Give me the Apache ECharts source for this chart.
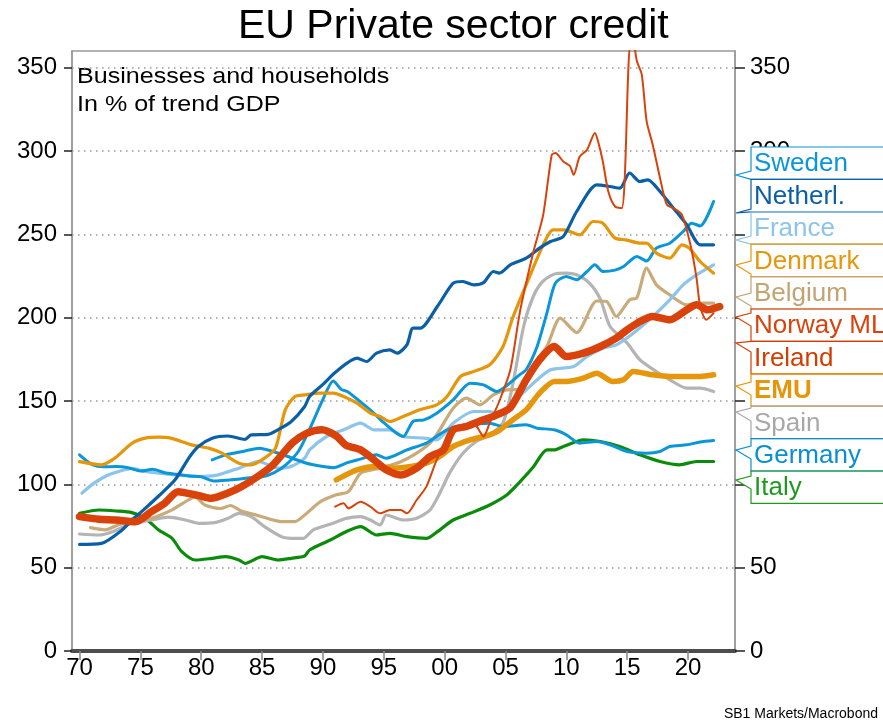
<!DOCTYPE html>
<html><head><meta charset="utf-8">
<script src="https://cdn.jsdelivr.net/npm/echarts@6/dist/echarts.min.js"></script>
<style>html,body{margin:0;padding:0;background:#fff}#c{width:883px;height:723px}</style>
</head><body><div id="c"></div>
<script>
// ---- data: [year, % of trend GDP] ----
const sweden = [[1970,117.7],[1971,112],[1972,110.5],[1973,110.7],[1974,110],[1975,108],[1976,109],[1977,107],[1978,106],[1979,105],[1980,104.5],[1981,102],[1982,102.5],[1983,103],[1984,104],[1985,104.5],[1986,107],[1987,112],[1988,120],[1988.9,133],[1990,151],[1990.85,162],[1991.5,157],[1992,155.7],[1993,150],[1994,144],[1995,137],[1996,131],[1996.6,128.7],[1997.4,137.7],[1998.3,138.7],[1999.35,142.7],[2000.7,150.7],[2002.1,160.7],[2003.2,159.7],[2004.3,155.7],[2005,158.7],[2006.2,166],[2006.7,168.7],[2007.6,182.7],[2008.4,202.7],[2009.1,220.7],[2010,224.7],[2010.85,222.7],[2011.7,227.7],[2012.35,231.7],[2013,227.7],[2014,228.5],[2014.7,230.7],[2015.8,236.7],[2016.6,234],[2017.4,241.7],[2018.5,244.7],[2019.6,251.7],[2020.3,256.7],[2021,255],[2022.1,269.7]];
const netherlands = [[1970,64],[1971.8,64.6],[1973.5,72.6],[1974.3,78.6],[1975.1,83.6],[1976.5,93],[1977.85,102.7],[1979,116],[1979.76,122.7],[1980.9,127.7],[1982.2,129],[1983.6,127],[1984.1,129.7],[1985.5,130],[1986.3,132.7],[1987.4,137.7],[1988.5,146.7],[1988.9,152.7],[1990,160],[1991.1,167.7],[1992.8,175.7],[1993.6,173.7],[1994.4,178.7],[1995.5,180.7],[1996.1,178.7],[1996.9,183.7],[1997.4,193.7],[1998,193.7],[1999.4,206.7],[2000.7,220.7],[2001.5,221.7],[2002.4,219.7],[2003.2,221],[2004,227.7],[2004.5,226.7],[2005.4,231.7],[2006.7,235.7],[2007.8,241.7],[2008.7,245.7],[2009.75,248.7],[2010.85,263.7],[2012.5,279.7],[2013.6,278.7],[2014.4,277.7],[2015.2,286.8],[2016.05,281.7],[2016.7,282.7],[2017.7,275.7],[2018.8,265.7],[2019.9,255.7],[2021,243.7],[2022.1,243.7]];
const france = [[1970.2,94.7],[1971,99.7],[1972.1,104.7],[1973.2,107.7],[1974.3,109.6],[1975.4,107.7],[1976.5,106.7],[1977.85,105.7],[1979.8,104.7],[1981.4,105.7],[1983.1,109.7],[1984.7,113.7],[1986.3,109.7],[1987.4,110.7],[1988.5,115.7],[1988.9,120.7],[1990.3,128.7],[1991.7,132.7],[1993.1,136.7],[1994.2,132.7],[1995.5,132.7],[1996.6,128.7],[1998.3,127.7],[1999.35,126.7],[2000.7,136.7],[2002.4,143.7],[2003.7,143.7],[2004.8,142],[2005.6,148.7],[2007.3,160.7],[2008.7,168.7],[2010.6,170.7],[2011.7,176.7],[2013,181.7],[2014.1,183.7],[2015.5,190.7],[2017.1,200.7],[2018.5,210.7],[2019.6,219.7],[2020.7,225.7],[2022.1,231.7]];
const denmark = [[1970,113.6],[1971.8,111.7],[1972.9,115.7],[1974.3,124.6],[1975.4,127.7],[1976.5,128.3],[1977.5,127.7],[1979.2,123.7],[1980.6,121.7],[1981.7,118.7],[1983.1,112.7],[1984.1,111.7],[1985.2,115.7],[1986.1,121.7],[1986.9,144.7],[1987.7,152.7],[1988.5,153.7],[1989.8,154.7],[1990.85,154.7],[1991.7,152.7],[1992.8,148.7],[1993.9,142.7],[1994.7,140.7],[1995.5,137.7],[1996.6,140.7],[1997.95,144.7],[1999.35,147.7],[2000.2,152.7],[2001.3,164.7],[2002.4,167.7],[2003.7,171.7],[2004.8,182.7],[2005.6,200],[2006.7,219.7],[2008.1,243.7],[2008.9,252.7],[2009.8,252.7],[2011.1,249.7],[2012.2,257.7],[2013,256.7],[2014,247.7],[2014.9,246.7],[2016.05,244.7],[2016.6,244.7],[2017.4,238.7],[2018.5,235.7],[2019.5,243.7],[2020.1,241.7],[2021,233.7],[2022.1,226.7]];
const belgium = [[1970.9,74],[1972.1,72.7],[1973.2,75.7],[1974.3,77.7],[1975.9,79.7],[1977.6,84.7],[1978.95,90.7],[1979.5,92.3],[1980.3,87.6],[1981.6,85.5],[1982.4,87.3],[1983.3,84],[1984.8,81],[1986.6,77.6],[1987.7,77.6],[1988.5,81.6],[1989.8,89.6],[1991.1,93.7],[1992.1,95.6],[1993.1,106.7],[1994.7,109.7],[1996.4,113.6],[1997.7,118.7],[1998.8,124.7],[1999.6,132.7],[2000.7,145.7],[2001.8,151.7],[2002.9,147.7],[2004,153.7],[2005.1,156.7],[2006.2,157],[2007.3,172],[2008.4,182.7],[2009.5,199.7],[2010.85,191],[2012.5,210],[2013.3,209.7],[2014.1,200.7],[2015.2,210.7],[2015.8,212],[2016.6,229.7],[2017.4,219.7],[2018.5,213.7],[2019.9,207.7],[2021,208.7],[2022.1,208.7]];
const norwayML = [[1970,80.6],[1971.6,79],[1973,78.6],[1974.6,77.6],[1975.9,83.6],[1977,88.7],[1978.1,95.6],[1979.8,93.2],[1980.8,91.6],[1982.2,94.8],[1983.3,98.5],[1984.7,105],[1985.9,111.7],[1987.5,125],[1988.7,130.7],[1989.9,132.7],[1991.1,129],[1991.9,123.5],[1993.1,120.7],[1994.2,114.7],[1995.2,108.7],[1996.4,105.6],[1997.7,109.7],[1998.8,116.6],[1999.9,120.7],[2000.7,132.7],[2001.8,134.7],[2003.2,138.7],[2004.3,141.7],[2005.4,146],[2006.7,162.7],[2007.8,174.7],[2009,182.7],[2010,176.7],[2011.4,178.7],[2012.8,182.7],[2014.1,187.7],[2015,192.7],[2016.05,197.7],[2017.1,200.7],[2018.5,198.7],[2019.9,204.7],[2020.7,207.7],[2021.6,204.7],[2022.6,206.7]];
const ireland = [[1991,86.6],[1991.7,88.6],[1992.1,85.6],[1993.1,89.6],[1993.9,86.6],[1994.7,82.6],[1995.5,84.6],[1996.4,84.6],[1996.9,82.6],[1997.7,90.6],[1998.5,98.6],[1999.35,114.7],[2000.2,126.7],[2001,132.7],[2002.1,136.7],[2002.6,135],[2003.2,128.7],[2003.7,136.7],[2004.5,150],[2005.4,168.7],[2006.2,204],[2007.3,239.7],[2008.1,261.7],[2008.8,297.7],[2009.1,298.8],[2009.75,293.7],[2010.3,291],[2010.6,285.7],[2011.1,296.7],[2011.7,300.7],[2012.35,310.8],[2012.6,306],[2013,293.7],[2013.45,275.7],[2014,266.7],[2014.55,265.7],[2014.8,283.7],[2015.1,350],[2015.3,366],[2015.6,362],[2015.8,353.8],[2016.2,345.8],[2016.6,317.8],[2017.1,303.8],[2017.7,283.8],[2018.25,267.8],[2018.8,265.7],[2019.5,261.7],[2020.2,243.7],[2020.7,223.7],[2021,206.7],[2021.5,198.7],[2022.1,202.7]];
const emu = [[1991.1,102.7],[1992.8,108.7],[1994.4,110.7],[1995.8,109.7],[1997.2,110.7],[1998.5,112.7],[1999.6,116.7],[2000.7,122.7],[2002.1,126.7],[2003.7,129.7],[2004.55,132.7],[2005.6,138.7],[2006.7,144.7],[2007.8,154.7],[2009,161.7],[2010,161.7],[2011.4,163.7],[2012.5,166.7],[2013.8,161.7],[2014.7,162.7],[2015.5,167.7],[2017.1,165.7],[2018.5,164.7],[2019.9,164.7],[2021,164.7],[2022.1,165.7]];
const spain = [[1970,70.2],[1971.6,69.6],[1972.7,71.6],[1974.3,76.6],[1975.9,78.6],[1977.3,80.3],[1978.7,78.6],[1979.8,76.6],[1981.1,77],[1982.2,79.6],[1983.1,82.6],[1984.1,80.6],[1985.2,74.6],[1986.6,68.6],[1987.7,67.6],[1988.4,67.6],[1989.2,72.7],[1990.85,76.7],[1991.9,79.6],[1993.1,80.6],[1993.9,78.6],[1994.7,75.6],[1995.2,81.6],[1996.6,78.6],[1997.7,79.6],[1998.8,84.6],[1999.6,94.7],[2000.4,106.7],[2001.5,118.7],[2002.6,125.7],[2003.7,129.7],[2004.8,137],[2005.6,160],[2006.5,195],[2007.3,213],[2008.1,222],[2009.2,226.5],[2010,226.7],[2010.85,225.7],[2011.9,220.7],[2012.8,211],[2013.6,194.7],[2015,184.7],[2016.05,174.7],[2017.4,167.7],[2018.5,162.7],[2019.9,157.7],[2021,157.7],[2022.1,155.7]];
const germany = [[1980.9,114.7],[1982,117.7],[1983.6,120],[1984.8,121.7],[1985.9,119.7],[1987,117],[1988.1,114],[1989,112],[1990.85,110],[1992,113],[1993,115],[1994.4,117.7],[1995.2,115.7],[1996.9,120.7],[1998.5,124.7],[2000.2,132.7],[2001.8,135.7],[2003.7,136.7],[2004.8,134.7],[2006.7,135.7],[2007.6,133.7],[2009,132.7],[2010,129.7],[2011.1,124.7],[2012.5,125.7],[2013.6,123.7],[2015,119.7],[2016.6,118.7],[2017.7,119.7],[2018.5,122.7],[2019.9,123.7],[2021,125.4],[2022.1,126.3]];
const italy = [[1970,82.6],[1971.6,84.6],[1973,84],[1974.3,83],[1975.4,79.6],[1976.5,72.6],[1977.6,67.6],[1978.4,59.6],[1979.5,54.6],[1980.9,55.6],[1982,56.6],[1983.1,54.6],[1983.6,52.6],[1985,56.6],[1986.3,54.6],[1987.4,55.6],[1988.5,57],[1988.9,60.6],[1990.6,66.6],[1991.9,71.6],[1993.1,74.6],[1994.4,69.6],[1995.5,70.6],[1996.9,68.6],[1998.5,67.6],[1999.4,71.6],[2000.7,78.6],[2002.1,82.6],[2003.7,87.6],[2005.1,93.6],[2006.2,101.6],[2007.3,110.6],[2008.4,120.7],[2009,120.7],[2009.75,122.7],[2011.4,126.7],[2012.8,125.7],[2014.4,122.7],[2016.05,117.7],[2017.7,113.7],[2019.3,111.7],[2020.7,113.7],[2022.1,113.7]];

const legendNames = ['Sweden','Netherl.','France','Denmark','Belgium','Norway ML','Ireland','EMU','Spain','Germany','Italy'];
const xTickYears = [1970,1975,1980,1985,1990,1995,2000,2005,2010,2015,2020];
const yTickValues = [0,50,100,150,200,250,300,350];

// ---- styling ----
const FONT = 'Liberation Sans, Arial, sans-serif';
const styles = {
  'Sweden':    {data: sweden,      color:'#0a96d8', width:3,   lc:'#0a96d8'},
  'Netherl.':  {data: netherlands, color:'#0a5fa6', width:3.2, lc:'#0a5fa6'},
  'France':    {data: france,      color:'#8cc4ec', width:3.2, lc:'#8cc4ec'},
  'Denmark':   {data: denmark,     color:'#e6960a', width:3.2, lc:'#e6960a'},
  'Belgium':   {data: belgium,     color:'#c9ab7a', width:3.2, lc:'#c2a472'},
  'Norway ML': {data: norwayML,    color:'#d9420b', width:7.5, lc:'#d9420b'},
  'Ireland':   {data: ireland,     color:'#d9420b', width:2,   lc:'#d43c00'},
  'EMU':       {data: emu,         color:'#e6960a', width:5.5, lc:'#e6960a', bold:true},
  'Spain':     {data: spain,       color:'#b4b4b4', width:3.2, lc:'#a8a8a8'},
  'Germany':   {data: germany,     color:'#0a96d8', width:3,   lc:'#0a8fd4'},
  'Italy':     {data: italy,       color:'#0a8c0a', width:3.2, lc:'#1f9a1f'}
};
const drawOrder = ['Italy','Spain','Belgium','France','Germany','Sweden','Denmark','Netherl.','EMU','Ireland','Norway ML'];

const chart = echarts.init(document.getElementById('c'), null, {renderer:'canvas'});
const gridL = 72, gridR = 148, gridT = 51, gridB = 72;

const option = {
  animation: false,
  backgroundColor: '#fff',
  title: {text:'EU Private sector credit', left:233, top:1, textStyle:{fontFamily:FONT, fontSize:41, fontWeight:'normal', color:'#000'}},
  grid: {left:gridL, right:gridR, top:gridT, bottom:gridB, show:true, borderColor:'#999', borderWidth:1.5, backgroundColor:'transparent'},
  xAxis: {
    type:'value', min:1969.38, max:2023.86,
    axisLine:{show:true, onZero:false, lineStyle:{color:'#4d4d4d', width:4}},
    axisTick:{show:true, length:9, lineStyle:{color:'#888', width:1.5}, customValues:xTickYears},
    axisLabel:{customValues:xTickYears, fontFamily:FONT, fontSize:24, color:'#000', margin:5,
      formatter: v => String(Math.round(v)%100).padStart(2,'0')},
    splitLine:{show:false}
  },
  yAxis: [
    {type:'value', min:0, max:360, interval:50, position:'left',
     axisLine:{show:true, lineStyle:{color:'#999', width:1.5}},
     axisTick:{show:true, length:8, lineStyle:{color:'#222', width:1.5}, customValues:yTickValues},
     axisLabel:{customValues:yTickValues, fontFamily:FONT, fontSize:24, color:'#000', margin:15},
     splitLine:{show:true, lineStyle:{color:'#999', width:1.5, type:[1.5,4.5]}}},
    {type:'value', min:0, max:360, interval:50, position:'right',
     axisLine:{show:true, lineStyle:{color:'#999', width:1.5}},
     axisTick:{show:true, length:10, lineStyle:{color:'#222', width:1.5}, customValues:yTickValues},
     axisLabel:{customValues:yTickValues, fontFamily:FONT, fontSize:24, color:'#000', margin:15},
     splitLine:{show:false}}
  ],
  series: drawOrder.map(n => ({
    name:n, type:'line', data:styles[n].data, showSymbol:false, smooth:0.25, clip:true,
    lineStyle:{color:styles[n].color, width:styles[n].width, join:'round', cap:'round'},
    itemStyle:{color:styles[n].color}
  })),
  graphic: []
};
chart.setOption(option);

// ---- annotations: subtitle, source, callout legend ----
const g = [];
g.push({type:'text', x:77, y:63, scaleX:1.14, style:{text:'Businesses and households\nIn % of trend GDP', font:'22px '+FONT, fill:'#000', lineHeight:28}});
g.push({type:'text', right:5, bottom:2, style:{text:'SB1 Markets/Macrobond', font:'14px '+FONT, fill:'#000'}});
const boxX = 751, tipX = 736, boxTop0 = 147, boxStep = 32.4, W = 883;
const tipYs = [175, 213, 240, 265, 297, 317, 343, 386, 412, 450, 480];
legendNames.forEach((n, i) => {
  const s = styles[n];
  const top = boxTop0 + i*boxStep, bot = top + boxStep;
  const tip = tipYs[i];
  const a = Math.max(top, Math.min(bot, tip - 4));
  const b = Math.max(top, Math.min(bot, tip + 9));
  const pts = [[W+2,top],[boxX,top],[boxX,a],[tipX,tip],[boxX,b],[boxX,bot],[W+2,bot]];
  g.push({type:'polygon', z:100, shape:{points:pts}, style:{fill:'#fff', stroke:null}});
  g.push({type:'polyline', z:101, shape:{points:pts}, style:{stroke:s.lc, lineWidth:1.2, fill:null}});
  g.push({type:'text', z:102, x:boxX+3, y:(top+bot)/2+1, style:{text:n, font:(s.bold?'bold ':'')+'26px '+FONT, fill:s.lc, verticalAlign:'middle', align:'left'}});
});
chart.setOption({graphic: g});
</script>
</body></html>
